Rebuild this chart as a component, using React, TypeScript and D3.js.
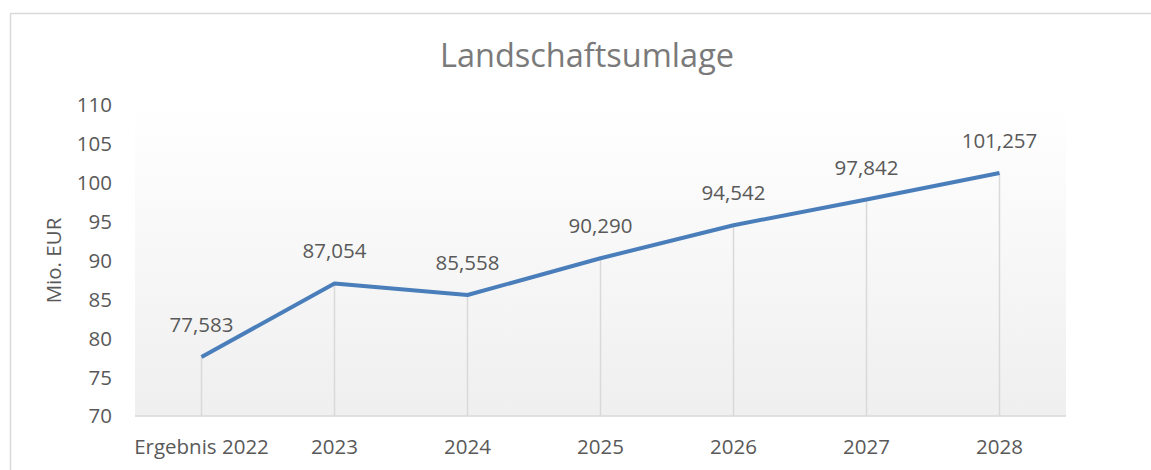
import React from "react";
import * as d3 from "d3";

const categories = ["Ergebnis 2022", "2023", "2024", "2025", "2026", "2027", "2028"];
const values = [77.583, 87.054, 85.558, 90.29, 94.542, 97.842, 101.257];
const valueLabels = ["77,583", "87,054", "85,558", "90,290", "94,542", "97,842", "101,257"];
const yTicks = [70, 75, 80, 85, 90, 95, 100, 105, 110];
const title = "Landschaftsumlage";
const yTitle = "Mio. EUR";

const W = 1151;
const H = 470;
const FONT = "'Open Sans', 'Noto Sans', sans-serif";
const TXT = "#595959";
const FS = 20.5;

export default function App() {
  const left = 135, right = 1066, top = 105, bottom = 416;
  const x = d3.scaleBand<string>().domain(categories).range([left, right]).paddingInner(0).paddingOuter(0);
  const y = d3.scaleLinear().domain([70, 110]).range([bottom, top]);
  const cx = (c: string) => (x(c) as number) + x.bandwidth() / 2;
  const line = d3.line<number>().x((_, i) => cx(categories[i])).y((v) => y(v));
  return (
    <svg width={W} height={H} style={{ position: "absolute", left: 0, top: 0, display: "block" }}>
      <defs>
        <linearGradient id="bg" x1="0" y1="0" x2="0" y2="1">
          <stop offset="0" stopColor="#ffffff" />
          <stop offset="0.25" stopColor="#fbfbfb" />
          <stop offset="1" stopColor="#efefef" />
        </linearGradient>
      </defs>
      <rect x={0} y={0} width={W} height={H} fill="#ffffff" />
      <rect x={10.5} y={13.5} width={W + 10} height={H + 10} fill="#ffffff" stroke="#d9d9d9" strokeWidth={1.5} />
      <rect x={left} y={top} width={right - left} height={bottom - top} fill="url(#bg)" />
      <text x={587} y={67} textAnchor="middle" fontFamily={FONT} fontSize={32.5} fill="#7a7a7a">{title}</text>
      {yTicks.map((t) => (
        <text key={t} x={112} y={y(t)} dy="0.36em" textAnchor="end" fontFamily={FONT} fontSize={FS} fill={TXT}>{t}</text>
      ))}
      <text transform={`translate(61,${(top + bottom) / 2}) rotate(-90)`} textAnchor="middle" fontFamily={FONT} fontSize={FS} fill={TXT}>{yTitle}</text>
      {values.map((v, i) => (
        <line key={i} x1={cx(categories[i])} x2={cx(categories[i])} y1={y(v)} y2={bottom} stroke="#d9d9d9" strokeWidth={1.5} />
      ))}
      <line x1={left} x2={right} y1={bottom} y2={bottom} stroke="#d9d9d9" strokeWidth={1.5} />
      {categories.map((c) => (
        <text key={c} x={cx(c)} y={454} textAnchor="middle" fontFamily={FONT} fontSize={FS} fill={TXT}>{c}</text>
      ))}
      <path d={line(values) || ""} fill="none" stroke="#4a7ebb" strokeWidth={4} strokeLinejoin="round" />
      {values.map((v, i) => (
        <text key={i} x={cx(categories[i])} y={y(v) - 25} textAnchor="middle" fontFamily={FONT} fontSize={FS} fill={TXT}>{valueLabels[i]}</text>
      ))}
    </svg>
  );
}
